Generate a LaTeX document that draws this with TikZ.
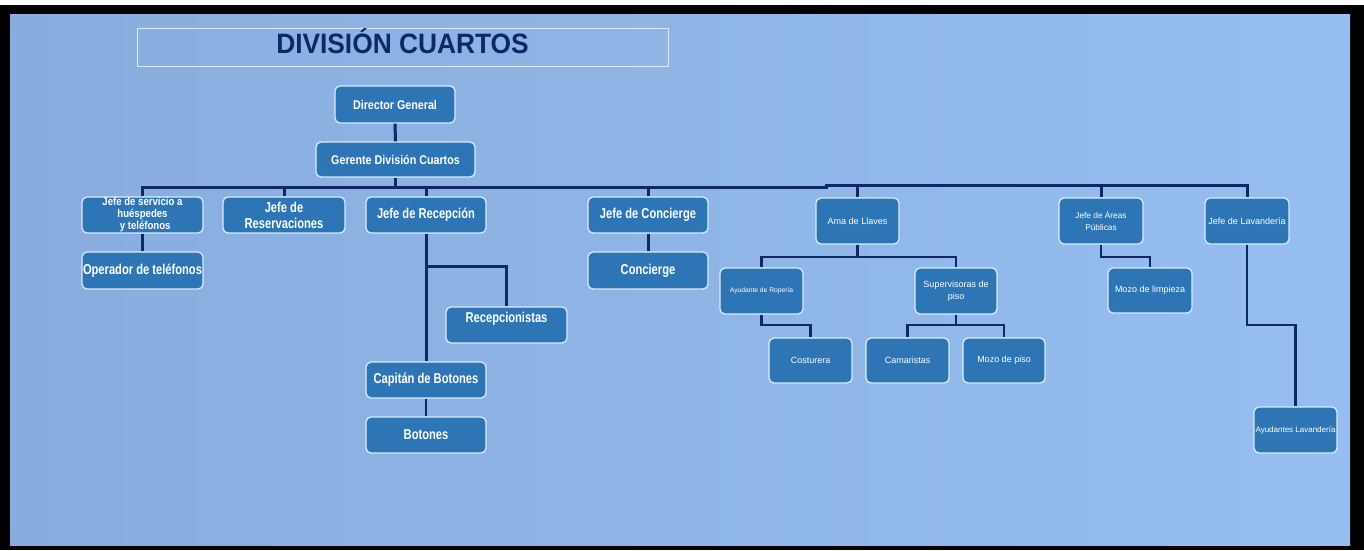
\documentclass[tikz,border=0pt]{standalone}
\usepackage{fontspec}
\setmainfont{Liberation Sans}
\newfontfamily\nf[FakeStretch=0.78]{Liberation Sans}
\newfontfamily\mf[FakeStretch=0.85]{Liberation Sans}
\newfontfamily\tf[FakeStretch=0.94]{Liberation Sans}
\definecolor{bgL}{RGB}{136,172,222}
\definecolor{bgR}{RGB}{150,190,240}
\definecolor{boxfill}{RGB}{46,117,182}
\definecolor{boxedge}{RGB}{218,234,248}
\definecolor{linec}{RGB}{16,40,102}
\definecolor{titlec}{RGB}{12,40,104}
\tikzset{
  box/.style={draw=boxedge, fill=boxfill, line width=1.3pt, rounded corners=5pt,
    text=white, inner sep=0pt, align=center},
  bigt/.style={font={\nf\bfseries\fontsize{14.3}{16}\selectfont}},
  midt/.style={font={\mf\bfseries\fontsize{12.6}{14}\selectfont}},
  smallt/.style={font={\fontsize{9}{12.5}\selectfont}},
  conn/.style={draw=linec, line width=3pt},
  thin conn/.style={draw=linec, line width=2.3pt},
}
\begin{document}
\begin{tikzpicture}[x=1pt,y=-1pt]
\useasboundingbox (0,0) rectangle (1364,550);
\fill[white] (0,0) rectangle (1364,550);
\fill[black] (0,5) rectangle (1364,550);
\shade[left color=bgL, right color=bgR] (10,14) rectangle (1350,545);

% title
\node[draw=boxedge, line width=1pt, minimum width=531pt, minimum height=38pt,
  inner sep=0pt, text height=25pt, text depth=13pt, text=titlec,
  font={\tf\bfseries\fontsize{28}{30}\selectfont}] (title) at (402.5,47) {DIVISIÓN CUARTOS};

% nodes
\node[box,midt,minimum width=120pt,minimum height=37pt] (dg) at (395,104.5) {Director General};
\node[box,midt,minimum width=159pt,minimum height=35pt] (gdc) at (395.5,159.5) {Gerente División Cuartos};
\node[box,minimum width=121pt,minimum height=36pt,font={\mf\bfseries\fontsize{11.3}{12}\selectfont}] (jsh) at (142.5,215) {Jefe de servicio a\\huéspedes\\\ \ y teléfonos};
\node[box,bigt,minimum width=122pt,minimum height=36pt] (jres) at (284,215) {Jefe de\\Reservaciones};
\node[box,bigt,minimum width=120pt,minimum height=36pt] (jrec) at (426,215) {Jefe de Recepción};
\node[box,bigt,minimum width=121pt,minimum height=37pt] (op) at (142.5,270.5) {Operador de teléfonos};
\node[box,bigt,minimum width=121pt,minimum height=36pt,text height=15pt,text depth=21pt] (recs) at (506.5,325) {Recepcionistas};
\node[box,bigt,minimum width=120pt,minimum height=36pt] (capb) at (426,380) {Capitán de Botones};
\node[box,bigt,minimum width=120pt,minimum height=36pt] (bot) at (426,435) {Botones};
\node[box,bigt,minimum width=120pt,minimum height=36pt] (jcon) at (648,215) {Jefe de Concierge};
\node[box,bigt,minimum width=120pt,minimum height=37pt] (con) at (648,270.5) {Concierge};

\node[box,smallt,minimum width=83pt,minimum height=46pt] (ama) at (857.5,221) {Ama de Llaves};
\node[box,minimum width=84pt,minimum height=46pt,font={\fontsize{8.3}{11.5}\selectfont}] (jap) at (1101,221) {Jefe de Áreas\\Públicas};
\node[box,smallt,minimum width=84pt,minimum height=46pt] (jlav) at (1247,221) {Jefe de Lavandería};
\node[box,minimum width=83pt,minimum height=46pt,font={\fontsize{6.7}{8}\selectfont}] (ayr) at (761.5,291) {Ayudante de Ropería};
\node[box,smallt,minimum width=82pt,minimum height=46pt] (sup) at (956,291) {Supervisoras de\\piso};
\node[box,smallt,minimum width=83pt,minimum height=45pt] (cost) at (810.5,360.5) {Costurera};
\node[box,smallt,minimum width=83pt,minimum height=45pt] (cam) at (907.5,360.5) {Camaristas};
\node[box,smallt,minimum width=82pt,minimum height=45pt] (mp) at (1004,360.5) {Mozo de piso};
\node[box,smallt,minimum width=84pt,minimum height=45pt] (ml) at (1150,290.5) {Mozo de limpieza};
\node[box,minimum width=83pt,minimum height=46pt,font={\fontsize{8}{10}\selectfont}] (al) at (1295.5,430) {Ayudantes Lavandería};

% helper coordinates
\coordinate (busL) at (0,187);
\coordinate (busR) at (0,185);
\coordinate (jog) at (826,187);
\coordinate (recb) at (0,266);
\coordinate (amab) at (0,257);
\coordinate (lowb) at (0,325);

% connectors
\draw[conn] (dg.south) -- (gdc.north);
\draw[conn] (gdc.south) -- (gdc.south |- busL) -| (jsh.north);
\draw[conn] (gdc.south |- busL) -| (jres.north);
\draw[conn] (gdc.south |- busL) -| (jrec.north);
\draw[conn] (gdc.south |- busL) -| (jcon.north);
\draw[conn] (gdc.south |- busL) -- (jog) -- (jog |- busR) -| (ama.north);
\draw[conn] (jog |- busR) -| (jap.north);
\draw[conn] (jog |- busR) -| (jlav.north);
\draw[conn] (jsh.south) -- (op.north);
\draw[conn] (jrec.south) -- (capb.north);
\draw[conn] (jrec.south |- recb) -| (recs.north);
\draw[draw=linec, line width=1.8pt] (capb.south) -- (bot.north);
\draw[conn] (jcon.south) -- (con.north);
\draw[thin conn] (ama.south) -- (ama.south |- amab) -| (ayr.north);
\draw[thin conn] (ama.south |- amab) -| (sup.north);
\draw[thin conn] (ayr.south) -- (ayr.south |- lowb) -| (cost.north);
\draw[thin conn] (sup.south) -- (sup.south |- lowb) -| (cam.north);
\draw[thin conn] (sup.south |- lowb) -| (mp.north);
\draw[thin conn] (jap.south) -- (jap.south |- amab) -| (ml.north);
\draw[thin conn] (jlav.south) -- (jlav.south |- lowb) -| (al.north);
\end{tikzpicture}
\end{document}
